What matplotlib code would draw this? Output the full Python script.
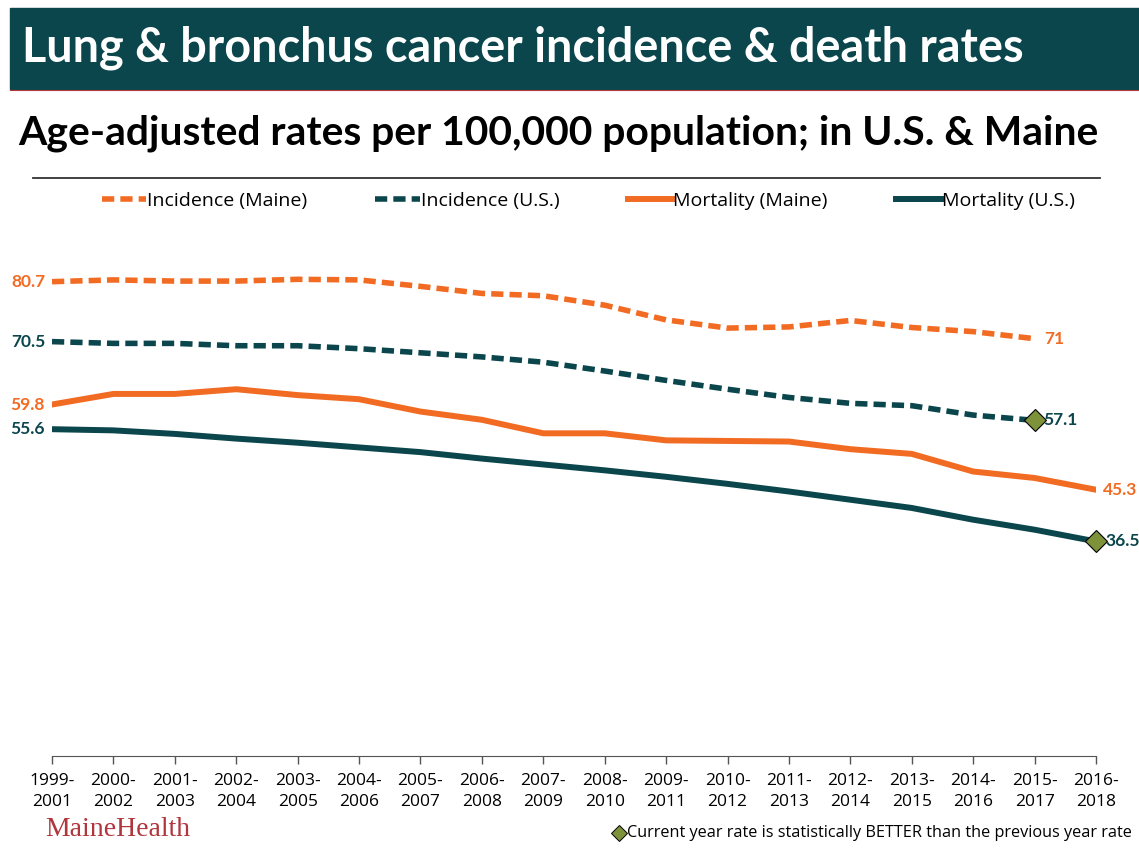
import numpy as np
import matplotlib
matplotlib.use('Agg')
import matplotlib.pyplot as plt
from matplotlib.patches import Rectangle
from matplotlib.lines import Line2D

plt.rcParams['font.family'] = ['Lato', 'DejaVu Sans']

periods = ['1999-\n2001', '2000-\n2002', '2001-\n2003', '2002-\n2004', '2003-\n2005',
           '2004-\n2006', '2005-\n2007', '2006-\n2008', '2007-\n2009', '2008-\n2010',
           '2009-\n2011', '2010-\n2012', '2011-\n2013', '2012-\n2014', '2013-\n2015',
           '2014-\n2016', '2015-\n2017', '2016-\n2018']

inc_maine = [80.7, 81.0, 80.8, 80.8, 81.1, 81.0, 79.9, 78.7, 78.3, 76.7,
             74.2, 72.8, 73.0, 74.1, 72.9, 72.2, 71.0]
inc_us = [70.5, 70.2, 70.2, 69.8, 69.8, 69.3, 68.6, 67.9, 67.0, 65.5,
          63.9, 62.4, 61.0, 60.0, 59.6, 58.0, 57.1]
mort_maine = [59.8, 61.6, 61.6, 62.4, 61.4, 60.7, 58.6, 57.2, 54.9, 54.9,
              53.7, 53.6, 53.5, 52.2, 51.4, 48.4, 47.3, 45.3]
mort_us = [55.6, 55.4, 54.8, 54.0, 53.3, 52.5, 51.7, 50.6, 49.6, 48.6,
           47.5, 46.3, 45.0, 43.6, 42.2, 40.2, 38.5, 36.5]

ORANGE = '#F26B23'
TEAL = '#0B464D'
OLIVE = '#7E923A'
DASH = (0, (2.2, 1.1))

W, H = 1139, 850
fig = plt.figure(figsize=(W / 100, H / 100), dpi=100)


def fx(px):
    return px / W


def fy(py):
    return 1 - py / H


# header banner
fig.patches.append(Rectangle((fx(10), fy(89)), 1 - fx(10), 81 / H,
                             transform=fig.transFigure, color=TEAL, zorder=0))
fig.add_artist(Line2D([fx(10), 1], [fy(89.5), fy(89.5)], color='#B03A3A', lw=0.8))
fig.text(fx(22), fy(48), 'Lung & bronchus cancer incidence & death rates',
         color='white', fontsize=33.7, fontweight='bold', va='center', ha='left')
fig.text(fx(18), fy(133), 'Age-adjusted rates per 100,000 population; in U.S. & Maine',
         color='black', fontsize=29.4, fontweight='bold', va='center', ha='left')
fig.add_artist(Line2D([fx(33), fx(1100)], [fy(178), fy(178)], color='#333333', lw=1.3))

# plot area
ax = fig.add_axes([fx(52), fy(756), fx(1096) - fx(52), (756 - 227) / H])
x = np.arange(len(periods))
xi = x[:len(inc_maine)]

ax.plot(xi, inc_maine, color=ORANGE, lw=4, ls=DASH, label='Incidence (Maine)')
ax.plot(xi, inc_us, color=TEAL, lw=4, ls=DASH, label='Incidence (U.S.)')
ax.plot(x, mort_maine, color=ORANGE, lw=4.3, label='Mortality (Maine)')
ax.plot(x, mort_us, color=TEAL, lw=4.3, label='Mortality (U.S.)')

# significance markers
ax.plot([xi[-1]], [inc_us[-1]], marker='D', ms=11, color=OLIVE, mec='black', mew=0.8,
        ls='none', zorder=5)
ax.plot([x[-1]], [mort_us[-1]], marker='D', ms=11, color=OLIVE, mec='black', mew=0.8,
        ls='none', zorder=5, clip_on=False)

# start / end labels
lab = dict(fontsize=12.5, fontweight='bold', va='center')
for vals, col in [(inc_maine, ORANGE), (inc_us, TEAL), (mort_maine, ORANGE), (mort_us, TEAL)]:
    ax.annotate(f'{vals[0]:g}', (0, vals[0]), xytext=(-5, 0), textcoords='offset points',
                ha='right', color=col, annotation_clip=False, **lab)
ax.annotate(f'{inc_maine[-1]:g}', (xi[-1], inc_maine[-1]), xytext=(7, 0),
            textcoords='offset points', ha='left', color=ORANGE, **lab)
ax.annotate(f'{inc_us[-1]:g}', (xi[-1], inc_us[-1]), xytext=(6.5, 0),
            textcoords='offset points', ha='left', color=TEAL, **lab)
ax.annotate(f'{mort_maine[-1]:g}', (x[-1], mort_maine[-1]), xytext=(5, 0),
            textcoords='offset points', ha='left', color=ORANGE, annotation_clip=False, **lab)
ax.annotate(f'{mort_us[-1]:g}', (x[-1], mort_us[-1]), xytext=(6.5, 0),
            textcoords='offset points', ha='left', color=TEAL, annotation_clip=False, **lab)

ax.set_xlim(0, len(periods) - 1)
ax.set_ylim(0, 90)
ax.set_yticks([])
ax.set_xticks(x)
ax.set_xticklabels(periods, fontsize=12.5, linespacing=1.45, family=['Open Sans', 'DejaVu Sans'])
ax.tick_params(axis='x', length=6, width=1, color='#555555', pad=6)
for s in ['top', 'right', 'left']:
    ax.spines[s].set_visible(False)
ax.spines['bottom'].set_color('#555555')

leg = fig.legend(loc='center', bbox_to_anchor=(fx(588), fy(201)), ncol=4, frameon=False,
                 fontsize=14, handlelength=2.3, handletextpad=0.05, columnspacing=3.5)
for t in leg.get_texts():
    t.set_family(['Open Sans', 'DejaVu Sans'])

# footer
fig.text(fx(45), fy(830), 'MaineHealth', family=['Liberation Serif', 'DejaVu Serif'],
         fontsize=20, color='#B0353C', va='center', ha='left')
fig.add_artist(Line2D([fx(619)], [fy(833)], marker='D', ms=8, color=OLIVE, mec='black',
                      mew=0.7, ls='none'))
fig.text(fx(627), fy(833), 'Current year rate is statistically BETTER than the previous year rate',
         family=['Open Sans', 'DejaVu Sans'], fontsize=11.7, color='black', va='center', ha='left')

fig.savefig('out.png', dpi=100)
